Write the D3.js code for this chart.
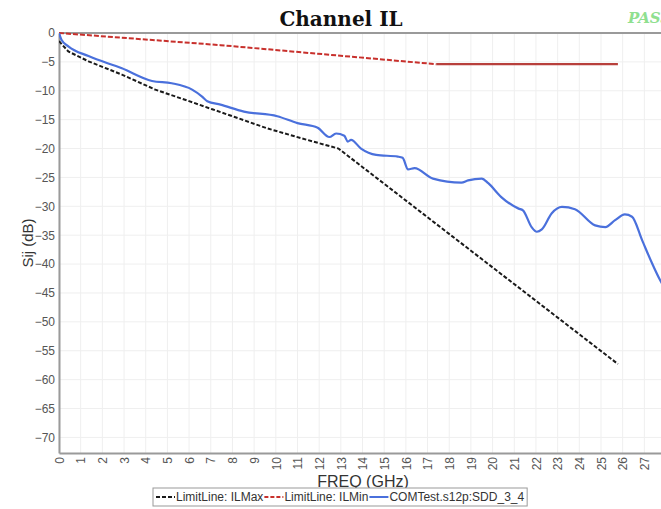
<!DOCTYPE html>
<html lang="en">
<head>
<meta charset="UTF-8">
<title>Channel IL</title>
<script src="https://cdn.jsdelivr.net/npm/d3@7"></script>
<style>
    body { margin: 0; background: #fff; }
    .tick text { font-family: "Liberation Sans", Arial, sans-serif; fill: #555; }
</style>
</head>
<body>
<svg width="661" height="509"></svg>
<script>
    // frequency (GHz) / dB pairs
    var ilMaxFreq = [0, 0.43, 1.36, 2.9, 4.44, 6.0, 7.07, 8.07, 9.6, 11.16, 12.89, 25.78];
    var ilMaxDb   = [-1.4, -3.2, -4.9, -7.2, -9.8, -11.8, -13.2, -14.5, -16.5, -18.2, -20.0, -57.3];

    var ilMinFreq = [0, 7.45, 17.4, 25.78];
    var ilMinDb   = [0, -2.1, -5.4, -5.4];

    var sddFreq = [0, 0.12, 0.43, 1.36, 2.9, 4.29, 5.2, 6.14, 6.6, 6.84, 7.45, 8.53, 10.07, 11.0, 11.93,
        12.47, 12.78, 13.16, 13.32, 13.47, 13.93, 14.63, 15.63, 15.85, 16.1, 16.4, 17.25, 18.56, 18.87,
        19.5, 19.8, 20.4, 21.2, 21.4, 21.8, 22.04, 22.27, 22.73, 23.2, 23.8, 24.73, 25.2, 25.65, 26.1,
        26.43, 26.9, 27.36, 27.73, 28.0];
    var sddDb = [0, -1.2, -2.3, -4.0, -6.1, -8.3, -8.7, -9.8, -11.0, -11.8, -12.4, -13.6, -14.4, -15.6, -16.4,
        -18.0, -17.4, -17.8, -18.8, -18.5, -20.0, -21.1, -21.4, -21.6, -23.6, -23.4, -25.2, -25.9, -25.5,
        -25.2, -26.0, -28.4, -30.4, -30.7, -33.6, -34.4, -34.0, -31.2, -30.1, -30.5, -33.3, -33.6, -32.4, -31.4,
        -31.8, -35.9, -39.9, -42.8, -44.5];

    var xTicks = d3.range(0, 31, 1);
    var yTicks = d3.range(0, -71, -5);
    var legendNames = ["LimitLine: ILMax", "LimitLine: ILMin", "COMTest.s12p:SDD_3_4"];

    function zip(f, v) { return f.map(function (d, i) { return [d, v[i]]; }); }
    var ilMax = zip(ilMaxFreq, ilMaxDb);
    var ilMin = zip(ilMinFreq, ilMinDb);
    var sdd = zip(sddFreq, sddDb);

    var svg = d3.select("svg");
    var plotLeft = 59, plotTop = 33, plotBottom = 453, plotRight = 59 + 30 * 21.68;

    var x = d3.scaleLinear().domain([0, 30]).range([plotLeft, plotRight]);
    var y = d3.scaleLinear().domain([-72.7, 0]).range([plotBottom, plotTop]);

    // 网格
    svg.append("g").selectAll("line").data(xTicks).enter().append("line")
        .attr("x1", function (d) { return x(d); }).attr("x2", function (d) { return x(d); })
        .attr("y1", plotTop).attr("y2", plotBottom)
        .style("stroke", "#efefef").style("stroke-width", 1);
    svg.append("g").selectAll("line").data(yTicks).enter().append("line")
        .attr("x1", plotLeft).attr("x2", plotRight)
        .attr("y1", function (d) { return y(d); }).attr("y2", function (d) { return y(d); })
        .style("stroke", "#efefef").style("stroke-width", 1);

    // 坐标轴
    var xAxis = svg.append("g").attr("transform", "translate(0," + plotBottom + ")")
        .call(d3.axisBottom(x).tickValues(xTicks).tickSize(0).tickFormat(d3.format("d")));
    xAxis.select(".domain").style("stroke", "#9a9a9a").style("stroke-width", 2);
    xAxis.selectAll(".tick text")
        .style("font-size", "12px")
        .attr("transform", "rotate(-90)")
        .attr("x", -4).attr("y", 0).attr("dy", "0.35em")
        .style("text-anchor", "end");

    var yAxis = svg.append("g").attr("transform", "translate(" + plotLeft + ",0)")
        .call(d3.axisLeft(y).tickValues(yTicks).tickSize(0).tickPadding(4));
    yAxis.select(".domain").style("stroke", "#9a9a9a").style("stroke-width", 2);
    yAxis.selectAll(".tick text").style("font-size", "12px");

    svg.append("line").attr("x1", plotLeft).attr("x2", 661).attr("y1", plotTop).attr("y2", plotTop)
        .style("stroke", "#9a9a9a").style("stroke-width", 2);

    // 曲线
    svg.append("clipPath").attr("id", "plot")
        .append("rect").attr("x", plotLeft).attr("y", plotTop - 2)
        .attr("width", plotRight - plotLeft).attr("height", plotBottom - plotTop + 2);

    var line = d3.line().x(function (d) { return x(d[0]); }).y(function (d) { return y(d[1]); });
    var plot = svg.append("g").attr("clip-path", "url(#plot)");

    plot.append("path").datum(ilMin.slice(0, 3)).attr("d", line)
        .style("fill", "none").style("stroke", "#c8302c").style("stroke-width", 2)
        .style("stroke-dasharray", "5,2");
    plot.append("path").datum(ilMin.slice(2)).attr("d", line)
        .style("fill", "none").style("stroke", "#b8403c").style("stroke-width", 2.2);

    plot.append("path").datum(ilMax).attr("d", line)
        .style("fill", "none").style("stroke", "#1a1a1a").style("stroke-width", 2)
        .style("stroke-dasharray", "4,2");

    plot.append("path").datum(sdd).attr("d", d3.line().curve(d3.curveMonotoneX)
            .x(function (d) { return x(d[0]); }).y(function (d) { return y(d[1]); }))
        .style("fill", "none").style("stroke", "#4a70dc").style("stroke-width", 2.2);

    // 文字
    svg.append("text").attr("x", 341).attr("y", 26).attr("text-anchor", "middle")
        .style("font-family", "'DejaVu Serif', serif").style("font-weight", "bold")
        .style("font-size", "20px").style("fill", "#111").text("Channel IL");

    svg.append("text").attr("x", 628).attr("y", 23)
        .style("font-family", "'DejaVu Serif', serif").style("font-weight", "bold").style("font-style", "italic")
        .style("font-size", "15px").style("fill", "#8fe08f").text("PASS");

    svg.append("text").attr("transform", "translate(33,243) rotate(-90)").attr("text-anchor", "middle")
        .style("font-family", "'Liberation Sans', Arial, sans-serif").style("font-size", "15px")
        .style("fill", "#333").text("Sij  (dB)");

    svg.append("text").attr("x", 363).attr("y", 487).attr("text-anchor", "middle")
        .style("font-family", "'Liberation Sans', Arial, sans-serif").style("font-size", "16px")
        .style("fill", "#333").text("FREQ (GHz)");

    // 图例
    var legendStyles = [
        { color: "#1a1a1a", dash: "4,2" },
        { color: "#c8302c", dash: "4,2" },
        { color: "#4a70dc", dash: null }
    ];
    var legend = svg.append("g");
    var box = legend.append("rect").attr("y", 488).attr("height", 18)
        .style("fill", "#fff").style("stroke", "#999").style("stroke-width", 1);
    var lx = 156;
    legendNames.forEach(function (name, i) {
        legend.append("line").attr("x1", lx).attr("x2", lx + 19).attr("y1", 497).attr("y2", 497)
            .style("stroke", legendStyles[i].color).style("stroke-width", 2)
            .style("stroke-dasharray", legendStyles[i].dash);
        var t = legend.append("text").attr("x", lx + 20).attr("y", 501)
            .style("font-family", "'Liberation Sans', Arial, sans-serif").style("font-size", "12px")
            .style("fill", "#333").text(name);
        lx += 20 + t.node().getComputedTextLength() + 1;
    });
    box.attr("x", 153).attr("width", lx - 153 + 2);
</script>
</body>
</html>
